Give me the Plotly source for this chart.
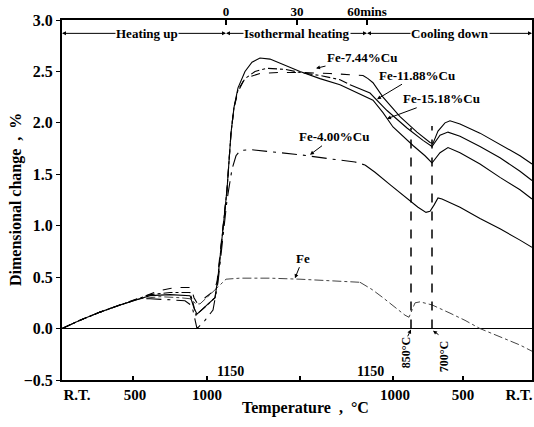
import numpy as np
import plotly.graph_objects as go

# process coordinate (heating -> isothermal -> cooling), dimensional change in %
fe_x = [62, 80, 100, 120, 140, 160, 180, 190, 196, 200, 210, 220, 226, 240, 270, 300, 340, 360,
        372, 383, 395, 405, 409, 412, 415, 420, 432, 450, 465, 480, 500, 520, 532]
fe_y = [0.0, 0.08, 0.16, 0.23, 0.29, 0.31, 0.30, 0.29, 0.24, 0.24, 0.33, 0.43, 0.48, 0.49, 0.49,
        0.48, 0.46, 0.45, 0.38, 0.30, 0.21, 0.13, 0.11, 0.18, 0.25, 0.26, 0.23, 0.15, 0.08, 0.0,
        -0.08, -0.16, -0.22]

cu400_x = [62, 80, 100, 120, 140, 150, 170, 185, 192, 197, 205, 213, 218, 222, 227, 232, 236, 240,
           250, 270, 300, 330, 355, 365, 375, 390, 405, 418, 426, 430, 434, 438, 442, 460, 480,
           500, 520, 532]
cu400_y = [0.0, 0.08, 0.16, 0.23, 0.29, 0.29, 0.28, 0.27, 0.22, 0.0, 0.08, 0.18, 0.45, 0.8, 1.25,
           1.55, 1.68, 1.73, 1.74, 1.72, 1.69, 1.65, 1.62, 1.59, 1.52, 1.40, 1.28, 1.18, 1.13,
           1.14, 1.20, 1.27, 1.26, 1.18, 1.07, 0.97, 0.86, 0.79]

cu744_x = [62, 80, 100, 120, 140, 150, 160, 170, 180, 191, 194, 197, 205, 213, 217, 222, 227, 231,
           234, 238, 243, 250, 260, 280, 300, 330, 355, 363, 368, 373, 383, 400, 417, 430, 433,
           438, 445, 450, 460, 480, 500, 520, 532]
cu744_y = [0.0, 0.08, 0.16, 0.23, 0.30, 0.34, 0.37, 0.39, 0.40, 0.40, 0.30, 0.25, 0.30, 0.36, 0.45,
           0.9, 1.35, 1.9, 2.15, 2.30, 2.40, 2.45, 2.48, 2.49, 2.49, 2.48, 2.47, 2.46, 2.43, 2.39,
           2.25, 2.06, 1.91, 1.81, 1.80, 1.92, 2.00, 2.02, 1.99, 1.90, 1.79, 1.68, 1.60]

cu1188_x = [62, 80, 100, 120, 140, 150, 170, 190, 193, 196, 205, 215, 218, 222, 227, 231, 234, 238,
            245, 255, 267, 285, 300, 320, 340, 350, 370, 387, 407, 423, 432, 440, 448, 460, 480,
            500, 520, 532]
cu1188_y = [0.0, 0.08, 0.16, 0.23, 0.30, 0.33, 0.35, 0.35, 0.25, 0.13, 0.21, 0.30, 0.5, 0.9, 1.35,
            1.9, 2.15, 2.32, 2.43, 2.50, 2.53, 2.52, 2.49, 2.46, 2.42, 2.37, 2.29, 2.12, 1.95,
            1.83, 1.77, 1.88, 1.91, 1.87, 1.77, 1.66, 1.53, 1.44]

cu1518_x = [62, 80, 100, 120, 140, 150, 170, 190, 194, 197, 206, 215, 218, 222, 227, 231, 234, 238,
            245, 252, 260, 270, 285, 300, 320, 340, 353, 365, 373, 383, 393, 413, 425, 432, 440,
            448, 460, 480, 500, 520, 532]
cu1518_y = [0.0, 0.08, 0.16, 0.23, 0.29, 0.32, 0.33, 0.32, 0.20, 0.14, 0.22, 0.30, 0.5, 0.9, 1.35,
            1.9, 2.15, 2.34, 2.50, 2.59, 2.63, 2.62, 2.56, 2.50, 2.43, 2.37, 2.31, 2.26, 2.22,
            2.10, 1.96, 1.78, 1.68, 1.61, 1.71, 1.76, 1.71, 1.60, 1.47, 1.35, 1.26]

# axis ticks (process coordinate)
bottom_tick_pos = [77, 135, 207, 395, 463, 519]
bottom_tick_text = ["R.T.", "500", "1000", "1000", "500", "R.T."]
bottom_minor_pos = [133, 207, 300, 393, 463]
top_tick_pos = [226, 297, 367]
top_tick_text = ["0", "30", "60mins"]
stage_bounds = [62, 226, 367, 532]
stage_names = ["Heating up", "Isothermal heating", "Cooling down"]
stage_text_pos = [147, 297, 450]
transition_pos = [411, 432]
transition_top = [1.95, 1.97]
transition_names = ["850°C", "700°C"]

SERIF = "Liberation Serif"
fig = go.Figure()


def add_series(x, y, cut, dash1, dash2, color="black", width=1.1):
    x = np.array(x)
    y = np.array(y)
    m1 = x <= cut
    m2 = x >= cut
    fig.add_trace(go.Scatter(x=x[m1], y=y[m1], mode="lines",
                             line=dict(color=color, width=width, dash=dash1),
                             showlegend=False, hoverinfo="skip"))
    fig.add_trace(go.Scatter(x=x[m2], y=y[m2], mode="lines",
                             line=dict(color=color, width=width, dash=dash2),
                             showlegend=False, hoverinfo="skip"))


add_series(fe_x, fe_y, 360, "dashdot", "dashdot", color="#444", width=1.0)
add_series(cu400_x, cu400_y, 365, "longdashdot", "solid")
add_series(cu744_x, cu744_y, 363, "dash", "solid")
add_series(cu1188_x, cu1188_y, 350, "dashdot", "solid")
add_series(cu1518_x, cu1518_y, 340, "solid", "solid")

# invisible trace for top axis
fig.add_trace(go.Scatter(x=top_tick_pos, y=[None] * 3, xaxis="x2", mode="markers",
                         marker=dict(opacity=0), showlegend=False, hoverinfo="skip"))

# transition dashed lines
for xp, yt in zip(transition_pos, transition_top):
    fig.add_shape(type="line", x0=xp, x1=xp, y0=0, y1=yt, xref="x", yref="y",
                  line=dict(color="black", width=1.5, dash="dash"))

lab_font = dict(family=SERIF, size=13, color="black", weight="bold")

# stage header arrows
HY = 2.87
for i in range(3):
    a, b = stage_bounds[i], stage_bounds[i + 1]
    c = stage_text_pos[i]
    for end in (a, b):
        fig.add_annotation(x=end, y=HY, ax=c, ay=HY, axref="x", ayref="y", xref="x", yref="y",
                           text="", showarrow=True, arrowhead=2, arrowsize=0.8, arrowwidth=1,
                           arrowcolor="black")
    fig.add_annotation(x=c, y=HY, text=stage_names[i], showarrow=False, font=lab_font,
                       bgcolor="white", borderpad=0, xref="x", yref="y")

# curve labels: (text, head_x, head_y, ax, ay)
curve_labels = [
    ("Fe-7.44%Cu", 316, 2.53, 46, -11),
    ("Fe-11.88%Cu", 377, 2.23, 40, -24),
    ("Fe-15.18%Cu", 387, 2.04, 54, -20),
    ("Fe-4.00%Cu", 310, 1.69, 24, -18),
    ("Fe", 295, 0.49, 8, -20),
]
for t, hx, hy, ax, ay in curve_labels:
    fig.add_annotation(x=hx, y=hy, ax=ax, ay=ay, text=t, showarrow=True, arrowhead=2,
                       arrowsize=0.8, arrowwidth=1, arrowcolor="black", font=lab_font,
                       xref="x", yref="y", standoff=0)

# transition labels
trans_lab = [(406, -0.24, 407, -0.09, 411, -0.01), (444, -0.28, 440, -0.07, 433, -0.02)]
for name, (tx, ty, x0, y0, x1, y1) in zip(transition_names, trans_lab):
    fig.add_annotation(x=tx, y=ty, text=name, textangle=-90, showarrow=False,
                       font=dict(family=SERIF, size=12, color="black", weight="bold"))
    fig.add_annotation(x=x1, y=y1, ax=x0, ay=y0, axref="x", ayref="y", text="",
                       showarrow=True, arrowhead=2, arrowsize=0.8, arrowwidth=1,
                       arrowcolor="black")

for xp in (230, 370):
    fig.add_annotation(x=xp, y=-0.42, text="1150", showarrow=False,
                       font=dict(family=SERIF, size=14, color="black", weight="bold"))

# axis titles
fig.add_annotation(xref="paper", yref="paper", x=(16 - 62) / 470, y=0.5, xanchor="center",
                   yanchor="middle", text="Dimensional change  ,  %",
                   textangle=-90, showarrow=False,
                   font=dict(family=SERIF, size=16, color="black", weight="bold"))
fig.add_annotation(xref="paper", yref="paper", x=(305 - 62) / 470, y=-(408 - 380) / 360,
                   xanchor="center", yanchor="middle",
                   text="Temperature  ,  °C", showarrow=False,
                   font=dict(family=SERIF, size=16, color="black", weight="bold"))

fig.update_layout(
    width=534, height=427,
    margin=dict(l=62, r=2, t=20, b=47, autoexpand=False),
    paper_bgcolor="white", plot_bgcolor="white",
    showlegend=False,
    xaxis=dict(range=[62, 532], showgrid=False, zeroline=False, showline=True, mirror=True,
               linecolor="black", linewidth=2, automargin=False,
               tickmode="array", tickvals=bottom_tick_pos, ticktext=bottom_tick_text,
               ticks="", ticklen=0,
               tickfont=dict(family=SERIF, size=15, color="black", weight="bold"),
               minor=dict(tickmode="array", tickvals=bottom_minor_pos, ticks="inside",
                          ticklen=4, tickcolor="black", tickwidth=1.5, showgrid=False)),
    xaxis2=dict(range=[62, 532], overlaying="x", side="top", showgrid=False, zeroline=False,
                showline=False, automargin=False, tickmode="array", tickvals=top_tick_pos,
                ticktext=top_tick_text,
                ticks="inside", ticklen=5, tickcolor="black", tickwidth=1.5,
                tickfont=dict(family=SERIF, size=13, color="black", weight="bold")),
    yaxis=dict(range=[-0.5, 3.0], showgrid=False, zeroline=True, zerolinecolor="black",
               zerolinewidth=1.5, showline=True, mirror=True, linecolor="black", linewidth=2,
               automargin=False,
               tickmode="linear", tick0=-0.5, dtick=0.5, tickformat=".1f",
               ticks="outside", ticklen=4, tickcolor="black",
               tickfont=dict(family=SERIF, size=16, color="black", weight="bold")),
)

fig.write_html(
    "out.html",
    config={"displayModeBar": False, "staticPlot": True},
    post_script="document.documentElement.style.margin='0';document.body.style.margin='0';"
                "document.body.style.overflow='hidden';",
)
